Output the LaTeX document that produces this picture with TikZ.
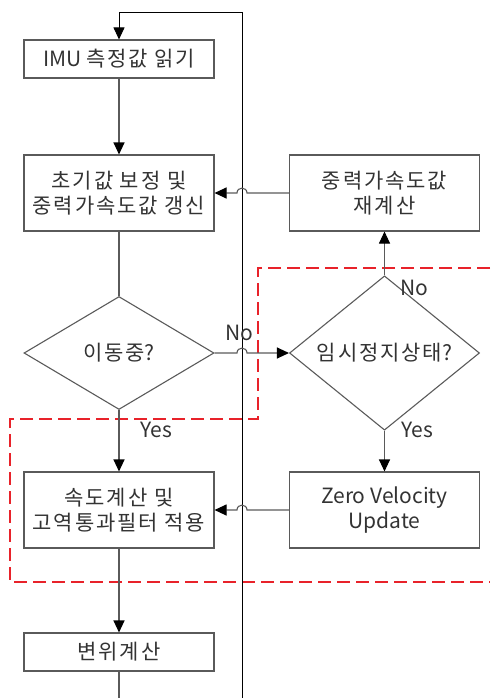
\documentclass[tikz,border=0pt]{standalone}
\usepackage{fontspec}
\setmainfont{Noto Sans CJK KR}
\newfontfamily\kr[LetterSpace=9]{Noto Sans CJK KR}
\usetikzlibrary{shapes.geometric,arrows.meta,calc}
\definecolor{linec}{HTML}{5A5A5A}
\definecolor{textc}{HTML}{333333}
\definecolor{dashred}{HTML}{E8222A}
\begin{document}
\begin{tikzpicture}[x=1pt,y=-1pt,
  every node/.style={text=textc,font=\fontsize{21}{25}\selectfont},
  box/.style={draw=linec,line width=1.1pt,minimum width=190pt,align=center,inner sep=0pt},
  onebox/.style={box,minimum height=38pt},
  twobox/.style={box,minimum height=76pt},
  decide/.style={draw=linec,line width=1.1pt,diamond,minimum width=190pt,minimum height=113pt,inner sep=0pt},
  flow/.style={draw=linec,line width=1.1pt},
  tip/.style={-{Triangle[length=12pt,width=11pt,color=black]}},
  loopline/.style={draw=black,line width=0.9pt},
  lbl/.style={inner sep=0pt}]
\useasboundingbox (0,0) rectangle (490,698);
% nodes
\node[onebox] (imu) at (119,59) {IMU {\kr 측정값 읽기}};
\node[twobox] (init) at (119,193) {\kr 초기값 보정 및\\\kr 중력가속도값 갱신};
\node[decide] (move) at (119,353) {{\kr 이동중}?};
\node[twobox] (vel) at (119,510) {\kr 속도계산 및\\\kr 고역통과필터 적용};
\node[onebox] (disp) at (119,652) {\kr 변위계산};
\node[twobox] (grav) at (384.5,193) {\kr 중력가속도값\\\kr 재계산};
\node[decide] (stop) at (384.5,353) {{\kr 임시정지상태}?};
\node[twobox] (zvu) at (384.5,510) {Zero Velocity\\Update};
\coordinate (tr) at (242,12);
\coordinate (br) at (242,698);
\coordinate (bl) at (119,698);
% red dashed region
\draw[dashred,line width=1.4pt,dash pattern=on 13pt off 6pt]
  (490,268) -- (258,268) -- (258,419) -- (10,419) -- (10,582) -- (490,582);
% loop
\draw[flow] (disp.south) -- (bl);
\draw[loopline,tip] (br) -- (tr) -- (imu.north |- tr) -- (imu.north);
% vertical flows
\draw[flow,tip] (imu.south) -- (init.north);
\draw[flow] (init.south) -- (move.north);
\draw[flow,tip] (move.south) -- (vel.north);
\draw[flow,tip] (vel.south) -- (disp.north);
\draw[flow,tip] (stop.south) -- (zvu.north);
\draw[flow,tip] (stop.north) -- (grav.south);
% horizontal flows with jumps over the loop line
\draw[flow,tip] (grav.west) -- ($(grav.west -| tr)+(5,0)$) .. controls +(0,-6.5) and +(0,-6.5) .. ($(grav.west -| tr)+(-5,0)$) -- (init.east);
\draw[flow,tip] (zvu.west) -- ($(zvu.west -| tr)+(5,0)$) .. controls +(0,-6.5) and +(0,-6.5) .. ($(zvu.west -| tr)+(-5,0)$) -- (vel.east);
\draw[flow,tip] (move.east) -- ($(move.east -| tr)+(-5,0)$) .. controls +(0,-6.5) and +(0,-6.5) .. ($(move.east -| tr)+(5,0)$) -- (stop.west);
% labels
\node[lbl] (no1) at (239,333) {No};
\node[lbl] (no2) at (414,288) {No};
\node[lbl] (yes1) at (156,430) {Yes};
\node[lbl] (yes2) at (417,430) {Yes};
\end{tikzpicture}
\end{document}
